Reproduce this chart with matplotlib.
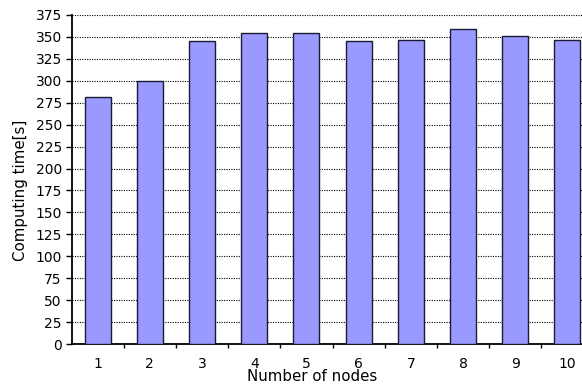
import numpy as np
from matplotlib import pyplot as plt
from matplotlib.ticker import MultipleLocator, FixedLocator

nodes = ["1", "2", "3", "4", "5", "6", "7", "8", "9", "10"]
computing_time = [282, 300, 345, 355, 354, 345, 346, 359, 351, 346]

plt.rcParams['font.family'] = ['DejaVu Sans']

fig = plt.figure(figsize=(5.82, 3.85), dpi=100)
# axis runs a little past the right edge of the image, as in the reference
ax = fig.add_axes([71.5 / 582, 41 / 385, 522 / 582, 329 / 385])

x = np.arange(len(nodes))
ax.bar(x, computing_time, width=0.5, color="#9999ff", edgecolor="#1a1a33",
       linewidth=1.0, zorder=3)

ax.set_xlim(-0.5, len(nodes) - 0.5)
ax.set_ylim(0, 375)
ax.yaxis.set_major_locator(MultipleLocator(25))
ax.yaxis.grid(True, linestyle=(0, (1, 1.2)), color="black", linewidth=0.8, zorder=0)

ax.set_xticks(x)
ax.set_xticklabels(nodes)
ax.xaxis.set_minor_locator(FixedLocator(np.arange(0.5, len(nodes) - 0.5, 1)))
ax.tick_params(axis="x", which="major", length=0, pad=9, labelsize=10)
ax.tick_params(axis="x", which="minor", length=3, direction="out", width=1)
ax.tick_params(axis="y", length=4, width=1, labelsize=10, pad=3)

for side in ["top", "right"]:
    ax.spines[side].set_visible(False)
ax.spines["left"].set_linewidth(1.3)
ax.spines["bottom"].set_linewidth(1.3)

ax.set_xlabel("Number of nodes", fontsize=10.8)
ax.set_ylabel("Computing time[s]", fontsize=10.8)
ax.xaxis.set_label_coords(0.461, -0.077)
ax.yaxis.set_label_coords(-0.083, 0.468)

fig.savefig("out.png", dpi=100)
